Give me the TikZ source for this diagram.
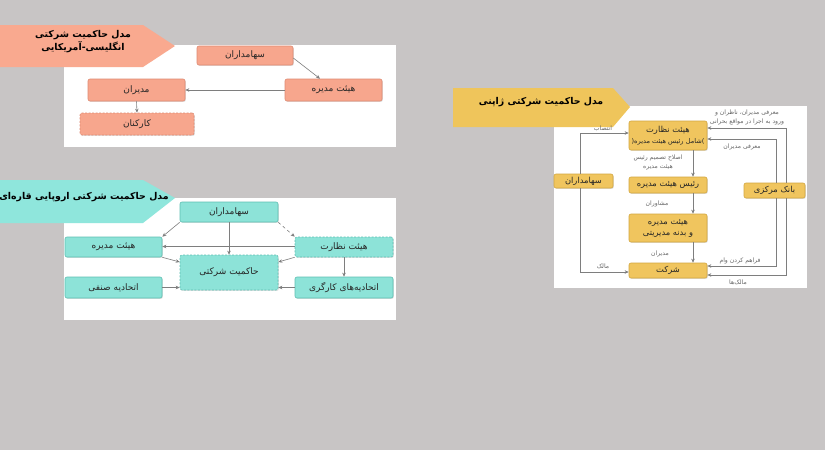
\documentclass[tikz,border=0pt]{standalone}
\usepackage{fontspec}
\newfontfamily\persian[Script=Arabic]{DejaVu Sans}
\TeXXeTstate=1
\usetikzlibrary{shadows,arrows.meta}
\definecolor{bgc}{HTML}{C8C5C5}
\definecolor{salB}{HTML}{F9A98F}
\definecolor{salF}{HTML}{F7A68D}
\definecolor{salD}{HTML}{DE8A72}
\definecolor{cyB}{HTML}{8FE6DC}
\definecolor{cyF}{HTML}{8DE3D8}
\definecolor{cyD}{HTML}{5FBFB3}
\definecolor{yeB}{HTML}{EFC55B}
\definecolor{yeF}{HTML}{F0C55E}
\definecolor{yeD}{HTML}{D2A640}
\definecolor{arrc}{HTML}{7E7E7E}
\newcommand\myR[1]{\beginR#1\endR}
\begin{document}
\begin{tikzpicture}[x=1pt,y=-1pt,
  base/.style={rounded corners=2pt, line width=0.6pt, inner sep=0pt, align=center, text=black!85,
    drop shadow={shadow xshift=0.8pt,shadow yshift=-0.9pt,opacity=0.25}},
  sbox/.style={base, fill=salF, draw=salD, font=\persian\fontsize{9}{10}\selectfont},
  cbox/.style={base, fill=cyF, draw=cyD, font=\persian\fontsize{9}{10}\selectfont},
  ybox/.style={base, fill=yeF, draw=yeD, font=\persian\fontsize{8.3}{11}\selectfont},
  dsh/.style={dash pattern=on 2pt off 1.5pt},
  arr/.style={draw=arrc, line width=0.6pt, -{Stealth[length=4pt,width=3.5pt]}},
  lbl/.style={font=\persian\fontsize{6.1}{8.5}\selectfont, text=black!60, inner sep=0pt, align=center},
  ttl/.style={font=\persian\bfseries\fontsize{9.4}{13}\selectfont, align=center, text=black, inner sep=0pt}]
\useasboundingbox (0,0) rectangle (825,450);
\fill[bgc] (0,0) rectangle (825,450);
% panels
\fill[white] (64,45) rectangle (396,147);
\fill[white] (64,198) rectangle (396,320);
\fill[white] (554,106) rectangle (807,288);
% banners
\fill[salB] (0,25) -- (143,25) -- (175,46) -- (143,67) -- (0,67) -- cycle;
\fill[cyB] (0,180) -- (143,180) -- (175,198) -- (143,223) -- (0,223) -- cycle;
\fill[yeB] (453,88) -- (613,88) -- (630,107) -- (613,127) -- (453,127) -- cycle;
\node[ttl] (t1) at (83,41.5) {\myR{مدل حاکمیت شرکتی}\\\myR{انگلیسی-آمریکایی}};
\node[ttl] (t2) at (84,197) {\myR{مدل حاکمیت شرکتی اروپایی قاره‌ای}};
\node[ttl] (t3) at (541,102) {\myR{مدل حاکمیت شرکتی ژاپنی}};
% panel 1
\node[sbox, minimum width=96pt, minimum height=19pt] (a1) at (245,55.5) {\myR{سهامداران}};
\node[sbox, minimum width=97pt, minimum height=22pt] (a2) at (333.5,90) {\myR{هیئت مدیره}};
\node[sbox, minimum width=97pt, minimum height=22pt] (a3) at (136.5,90) {\myR{مدیران}};
\node[sbox, dsh, minimum width=114pt, minimum height=22pt] (a4) at (137,124) {\myR{کارکنان}};
\draw[arr] ([yshift=-2.5pt]a1.east) -- ([xshift=-13.5pt]a2.north);
\draw[arr] (a2.west) -- (a3.east);
\draw[arr] (a3.south) -- (a4.north);
% panel 2
\node[cbox, minimum width=98pt, minimum height=20pt] (b1) at (229,212) {\myR{سهامداران}};
\node[cbox, minimum width=97pt, minimum height=20pt] (b2) at (113.5,247) {\myR{هیئت مدیره}};
\node[cbox, dsh, minimum width=98pt, minimum height=20pt] (b3) at (344,247) {\myR{هیئت نظارت}};
\node[cbox, dsh, minimum width=98pt, minimum height=35pt] (b4) at (229,272.5) {\myR{حاکمیت شرکتی}};
\node[cbox, minimum width=97pt, minimum height=21pt] (b5) at (113.5,287.5) {\myR{اتحادیه صنفی}};
\node[cbox, minimum width=98pt, minimum height=21pt] (b6) at (344,287.5) {\myR{اتحادیه‌های کارگری}};
\draw[arr] (b1.south west) -- (b2.north east);
\draw[arr] (b1.south) -- (b4.north);
\draw[arr, dashed] (b1.south east) -- (b3.north west);
\draw[arr] ([yshift=0.5pt]b3.west) -- ([yshift=0.5pt]b2.east);
\draw[arr] (b2.south east) -- ([yshift=10.5pt]b4.west);
\draw[arr] (b3.south west) -- ([yshift=10.5pt]b4.east);
\draw[arr] (b3.south) -- (b6.north);
\draw[arr] (b5.east) -- (b5.east -| b4.west);
\draw[arr] (b6.west) -- (b6.west -| b4.east);
% panel 3
\node[ybox, minimum width=78pt, minimum height=29pt] (c1) at (668,135.5) {\myR{هیئت نظارت}\\{\fontsize{6.6}{8}\selectfont(\myR{شامل رئیس هیئت مدیره})}};
\node[ybox, minimum width=78pt, minimum height=16pt] (c2) at (668,185) {\myR{رئیس هیئت مدیره}};
\node[ybox, minimum width=78pt, minimum height=28pt] (c3) at (668,228) {\myR{هیئت مدیره}\\\myR{و بدنه مدیریتی}};
\node[ybox, minimum width=78pt, minimum height=15pt] (c4) at (668,270.5) {\myR{شرکت}};
\node[ybox, minimum width=59pt, minimum height=14pt] (c5) at (583.5,181) {\myR{سهامداران}};
\node[ybox, minimum width=61pt, minimum height=15pt] (c6) at (774.5,190.5) {\myR{بانک مرکزی}};
\draw[arr] ([xshift=-3.5pt]c5.north) |- ([yshift=2.5pt]c1.west);
\draw[arr] ([xshift=-3.5pt]c5.south) |- ([yshift=-1.5pt]c4.west);
\draw[arr] ([xshift=25pt]c1.south) -- ([xshift=25pt]c2.north);
\draw[arr] ([xshift=25pt]c2.south) -- ([xshift=25pt]c3.north);
\draw[arr] ([xshift=25pt]c3.south) -- ([xshift=25pt]c4.north);
\draw[arr] ([xshift=11.5pt]c6.north) |- ([yshift=7.5pt]c1.east);
\draw[arr] ([xshift=1.5pt]c6.north) |- ([yshift=-3.5pt]c1.east);
\draw[arr] ([xshift=1.5pt]c6.south) |- ([yshift=4.5pt]c4.east);
\draw[arr] ([xshift=11.5pt]c6.south) |- ([yshift=-4.5pt]c4.east);
\node[lbl] (l1) at (603,129) {\myR{انتصاب}};
\node[lbl] (l2) at (603,266) {\myR{مالک}};
\node[lbl] (l3) at (658,162.5) {\myR{اصلاح تصمیم رئیس}\\\myR{هیئت مدیره}};
\node[lbl] (l4) at (657,204) {\myR{مشاوران}};
\node[lbl] (l5) at (660,254) {\myR{مدیران}};
\node[lbl] (l6) at (747,117.5) {\myR{معرفی مدیران، ناظران و}\\\myR{ورود به اجرا در مواقع بحرانی}};
\node[lbl] (l7) at (742,147) {\myR{معرفی مدیران}};
\node[lbl] (l8) at (740,261) {\myR{فراهم کردن وام}};
\node[lbl] (l9) at (738,282) {\myR{مالک‌ها}};
\end{tikzpicture}
\end{document}
